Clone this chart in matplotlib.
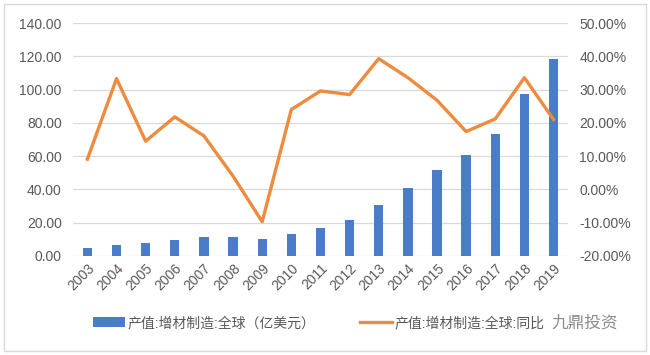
import matplotlib
matplotlib.use('Agg')
import matplotlib.pyplot as plt
from matplotlib.patches import Rectangle
from matplotlib.ticker import FuncFormatter

plt.rcParams['font.family'] = ['Liberation Sans', 'Noto Sans CJK SC', 'DejaVu Sans']

# 全球增材制造产值及同比
years = ['2003', '2004', '2005', '2006', '2007', '2008', '2009', '2010', '2011',
         '2012', '2013', '2014', '2015', '2016', '2017', '2018', '2019']
output = [5.0, 6.8, 7.8, 9.6, 11.2, 11.6, 10.4, 13.0, 16.8,
          21.8, 30.4, 40.6, 51.4, 60.4, 73.2, 97.4, 118.4]
growth = [9.1, 33.3, 14.5, 21.8, 16.1, 4.0, -9.7, 24.0, 29.6,
          28.5, 39.3, 33.6, 26.8, 17.4, 21.2, 33.6, 21.0]

bar_label = '产值:增材制造:全球（亿美元）'
line_label = '产值:增材制造:全球:同比'

blue = '#4A7CC9'
orange = '#ED8B3E'
grey = '#595959'

fig = plt.figure(figsize=(6.5, 3.55), dpi=100)
ax = fig.add_axes([0.112, 0.279, 0.762, 0.656])
ax2 = ax.twinx()

x = list(range(len(years)))
b = ax.bar(x, output, width=0.32, color=blue, label=bar_label, zorder=2)
l, = ax2.plot(x, growth, color=orange, lw=2.4, label=line_label, zorder=3)

ax.set_ylim(0, 140)
ax.set_yticks(range(0, 141, 20))
ax.yaxis.set_major_formatter(FuncFormatter(lambda v, p: f'{v:.2f}'))
ax2.set_ylim(-20, 50)
ax2.set_yticks(range(-20, 51, 10))
ax2.yaxis.set_major_formatter(FuncFormatter(lambda v, p: f'{v:.2f}%'))
ax.set_xlim(-0.5, len(years) - 0.5)
ax.set_xticks(x)
ax.set_xticklabels(years, rotation=45, ha='right', rotation_mode='anchor')

ax.grid(axis='y', color='#D9D9D9', lw=0.9, zorder=0)
ax.set_axisbelow(True)
for a in (ax, ax2):
    for s in a.spines.values():
        s.set_visible(False)
    a.tick_params(length=0, labelsize=10, colors=grey)
ax.tick_params(axis='x', pad=4)
ax.tick_params(axis='y', pad=8)
ax2.tick_params(axis='y', pad=8)

fig.legend(handles=[b, l], labels=[bar_label, line_label], loc='center',
           bbox_to_anchor=(0.49, 0.09), ncol=2, frameon=False, fontsize=10,
           labelcolor=grey, handlelength=2.3, handletextpad=0.2, columnspacing=3.2)

# watermark
fig.text(0.9, 0.09, '九鼎投资', ha='center', va='center', fontsize=12,
         color='#8C8C8C', family=['Noto Sans CJK SC'],
         bbox=dict(facecolor='white', edgecolor='none', alpha=0.85, pad=1))

fig.patches.append(Rectangle((0.006, 0.012), 0.988, 0.976, transform=fig.transFigure,
                             fill=False, edgecolor='#D9D9D9', lw=1))

fig.savefig('out.png', dpi=100)
